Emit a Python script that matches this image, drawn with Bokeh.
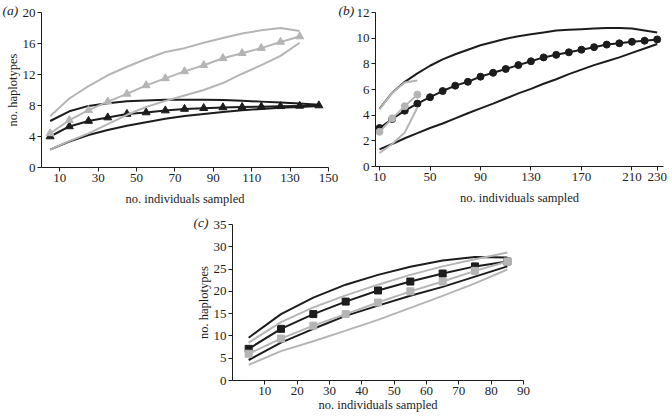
from bokeh.plotting import figure
from bokeh.models import Range1d, FixedTicker, Spacer
from bokeh.layouts import row, column
from bokeh.embed import file_html
from bokeh.resources import INLINE

# ---------------- data ----------------
# panel (a)
a_x_black = [5, 15, 25, 35, 45, 55, 65, 75, 85, 95, 105, 115, 125, 135, 145]
a_black_mean = [4.0, 5.3, 6.0, 6.45, 6.9, 7.1, 7.35, 7.55, 7.65, 7.75, 7.8, 7.85, 7.9, 7.95, 8.0]
a_black_upper = [6.0, 7.25, 7.95, 8.3, 8.55, 8.65, 8.75, 8.75, 8.75, 8.7, 8.6, 8.5, 8.4, 8.25, 8.1]
a_black_lower = [2.3, 3.35, 4.2, 4.85, 5.4, 5.85, 6.3, 6.65, 6.9, 7.15, 7.4, 7.55, 7.7, 7.8, 7.95]
a_x_gray = [5, 15, 25, 35, 45, 55, 65, 75, 85, 95, 105, 115, 125, 135]
a_gray_mean = [4.4, 6.1, 7.4, 8.5, 9.5, 10.6, 11.5, 12.4, 13.2, 14.1, 14.75, 15.4, 16.2, 16.9]
a_gray_upper = [6.6, 8.9, 10.5, 11.9, 13.0, 14.0, 14.9, 15.4, 16.1, 16.7, 17.3, 17.7, 18.0, 17.6]
a_gray_lower = [2.3, 3.4, 4.4, 5.6, 6.8, 7.8, 8.6, 9.3, 10.0, 10.9, 12.1, 13.2, 14.4, 16.1]
a_xticks = [10, 30, 50, 70, 90, 110, 130, 150]
a_yticks = [0, 4, 8, 12, 16, 20]

# panel (b)
b_x_black = [10, 20, 30, 40, 50, 60, 70, 80, 90, 100, 110, 120, 130, 140, 150,
             160, 170, 180, 190, 200, 210, 220, 230]
b_black_mean = [3.0, 3.7, 4.35, 4.9, 5.4, 5.88, 6.3, 6.6, 7.0, 7.3, 7.6, 7.9, 8.2, 8.5,
                8.7, 8.9, 9.1, 9.3, 9.5, 9.6, 9.72, 9.8, 9.9]
b_black_upper = [4.5, 5.75, 6.6, 7.25, 7.85, 8.35, 8.75, 9.1, 9.45, 9.7, 9.95, 10.15, 10.3,
                 10.45, 10.6, 10.65, 10.7, 10.75, 10.8, 10.8, 10.75, 10.6, 10.45]
b_black_lower = [1.33, 1.75, 2.2, 2.6, 3.0, 3.35, 3.75, 4.15, 4.53, 4.9, 5.3, 5.7, 6.05,
                 6.45, 6.8, 7.2, 7.55, 7.9, 8.2, 8.5, 8.85, 9.2, 9.55]
b_x_gray = [10, 20, 30, 40]
b_gray_mean = [2.7, 3.75, 4.7, 5.6]
b_gray_upper = [4.45, 5.75, 6.55, 6.7]
b_gray_lower = [1.05, 1.75, 2.65, 4.6]
b_xticks = [10, 50, 90, 130, 170, 210, 230]
b_yticks = [0, 2, 4, 6, 8, 10, 12]

# panel (c)
c_x = [5, 15, 25, 35, 45, 55, 65, 75, 85]
c_black_mean = [7.1, 11.6, 14.9, 17.7, 20.2, 22.2, 24.0, 25.6, 26.7]
c_black_upper = [9.6, 14.9, 18.6, 21.5, 23.7, 25.5, 26.9, 27.7, 27.6]
c_black_lower = [4.6, 8.5, 11.6, 14.5, 16.8, 19.0, 21.0, 23.3, 25.6]
c_gray_mean = [6.0, 9.4, 12.3, 14.9, 17.5, 20.0, 22.2, 24.6, 26.7]
c_gray_upper = [8.5, 13.1, 16.4, 19.1, 21.5, 23.7, 25.6, 27.2, 28.7]
c_gray_lower = [3.5, 6.6, 8.8, 11.2, 13.6, 16.3, 19.0, 21.8, 24.9]
c_xticks = [10, 20, 30, 40, 50, 60, 70, 80, 90]
c_yticks = [0, 5, 10, 15, 20, 25, 30, 35]

XLABEL = "no. individuals sampled"
YLABEL = "no. haplotypes"

# ---------------- style ----------------
BLACK = "#1c1c1c"
GRAY = "#b5b5b5"
FONT = "Liberation Serif"


def make_fig(fw, fh, xr, yr, xticks, yticks, bl, br, bt, bb, tag, tag_off):
    p = figure(frame_width=fw, frame_height=fh,
               x_range=Range1d(*xr), y_range=Range1d(*yr),
               output_backend="svg", toolbar_location=None,
               min_border_left=bl, min_border_right=br,
               min_border_top=bt, min_border_bottom=bb, title=tag)
    p.title.align = "left"
    p.title.offset = tag_off
    p.title.standoff = -10
    p.title.text_font = FONT
    p.title.text_font_size = "13.5px"
    p.title.text_font_style = "italic"
    p.title.text_color = BLACK
    p.xgrid.visible = False
    p.ygrid.visible = False
    p.outline_line_color = None
    p.background_fill_color = "white"
    p.border_fill_color = "white"
    p.xaxis.ticker = FixedTicker(ticks=xticks)
    p.yaxis.ticker = FixedTicker(ticks=yticks)
    for ax in (p.xaxis[0], p.yaxis[0]):
        ax.axis_line_color = BLACK
        ax.axis_line_width = 1
        ax.major_tick_line_color = BLACK
        ax.major_tick_out = 4
        ax.major_tick_in = 0
        ax.minor_tick_line_color = None
        ax.major_label_text_font = FONT
        ax.major_label_text_font_size = "13px"
        ax.major_label_text_color = BLACK
        ax.major_label_standoff = 2
        ax.axis_label_text_font = FONT
        ax.axis_label_text_font_size = "12.5px"
        ax.axis_label_text_font_style = "normal"
        ax.axis_label_text_color = BLACK
    return p


def series(p, x, y, color, marker=None, size=7):
    p.line(x, y, line_color=color, line_width=2)
    if marker:
        p.scatter(x, y, marker=marker, size=size, fill_color=color,
                  line_color=color)


# ---------------- panel (a) ----------------
pa = make_fig(287, 155, (0.5, 150), (0, 20), a_xticks, a_yticks, 41, 10, 11, 44, "(a)", -39)
pa.xaxis.axis_label = XLABEL
pa.yaxis.axis_label = YLABEL
pa.yaxis.axis_label_standoff = 0
pa.xaxis.axis_label_standoff = 7
series(pa, a_x_black, a_black_upper, BLACK)
series(pa, a_x_black, a_black_lower, BLACK)
series(pa, a_x_black, a_black_mean, BLACK, "triangle", 8)
series(pa, a_x_gray, a_gray_upper, GRAY)
series(pa, a_x_gray, a_gray_lower, GRAY)
series(pa, a_x_gray, a_gray_mean, GRAY, "triangle", 8)

# ---------------- panel (b) ----------------
pb = make_fig(288, 154, (6.8, 235), (0, 12), b_xticks, b_yticks, 37, 5, 12, 44, "(b)", -37)
pb.xaxis.axis_label = XLABEL
pb.xaxis.axis_label_standoff = 7
series(pb, b_x_black, b_black_upper, BLACK)
series(pb, b_x_black, b_black_lower, BLACK)
series(pb, b_x_black, b_black_mean, BLACK, "circle", 7)
series(pb, b_x_gray, b_gray_upper, GRAY)
series(pb, b_x_gray, b_gray_lower, GRAY)
series(pb, b_x_gray, b_gray_mean, GRAY, "circle", 7)

# ---------------- panel (c) ----------------
pc = make_fig(291, 156, (0, 90), (0, 35), c_xticks, c_yticks, 41, 10, 14, 36, "(c)", -39)
pc.xaxis.axis_label = XLABEL
pc.yaxis.axis_label = YLABEL
pc.yaxis.axis_label_standoff = 0
pc.xaxis.axis_label_standoff = 0
series(pc, c_x, c_black_upper, BLACK)
series(pc, c_x, c_black_lower, BLACK)
series(pc, c_x, c_black_mean, BLACK, "square", 7)
series(pc, c_x, c_gray_upper, GRAY)
series(pc, c_x, c_gray_lower, GRAY)
series(pc, c_x, c_gray_mean, GRAY, "square", 7)

layout = column(row(pa, pb), row(Spacer(width=191, height=10), pc))

open("out.html", "w").write(file_html(layout, INLINE))
